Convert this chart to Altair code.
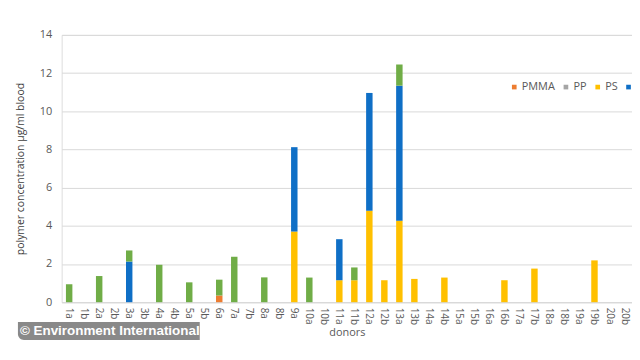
import altair as alt
import pandas as pd

donors = ["1a","1b","2a","2b","3a","3b","4a","4b","5a","5b","6a","7a","7b","8a","8b",
          "9a","10a","10b","11a","11b","12a","12b","13a","13b","14a","14b","15a","15b",
          "16a","16b","17a","17b","18a","18b","19a","19b","20a","20b"]

polymers = ["PMMA", "PP", "PS", "PET", "PE"]
colors = ["#ED7D31", "#A5A5A5", "#FFC000", "#0F6FC6", "#70AD47"]

pmma_donors = ["6a"]
pmma_values = [0.35]

pp_donors = []
pp_values = []

ps_donors = ["9a", "11a", "11b", "12a", "12b", "13a", "13b", "14b", "16b", "17b", "19b"]
ps_values = [3.70, 1.15, 1.15, 4.79, 1.15, 4.27, 1.22, 1.29, 1.15, 1.76, 2.19]

pet_donors = ["3a", "9a", "11a", "12a", "13a"]
pet_values = [2.13, 4.42, 2.15, 6.17, 7.07]

pe_donors = ["1a", "2a", "3a", "4a", "5a", "6a", "7a", "8a", "10a", "11b", "13a"]
pe_values = [0.94, 1.37, 0.58, 1.96, 1.04, 0.83, 2.38, 1.30, 1.29, 0.67, 1.11]

rows = []
for i, (name, ds, vs) in enumerate([
    ("PMMA", pmma_donors, pmma_values),
    ("PP", pp_donors, pp_values),
    ("PS", ps_donors, ps_values),
    ("PET", pet_donors, pet_values),
    ("PE", pe_donors, pe_values),
]):
    for d, v in zip(ds, vs):
        rows.append({"donor": d, "polymer": name, "value": v, "idx": i})
df = pd.DataFrame(rows)

FONT = "Open Sans"

bars = alt.Chart(df).mark_bar().encode(
    x=alt.X("donor:N", sort=donors, scale=alt.Scale(domain=donors, paddingInner=0.57, paddingOuter=0.285),
            axis=alt.Axis(title="donors", labelAngle=90, labelFontSize=10, labelColor="#595959",
                          labelFont=FONT, ticks=False, domainColor="#D9D9D9", labelPadding=5,
                          titleFont=FONT, titleFontSize=11, titleColor="#595959",
                          titleFontWeight="normal", titlePadding=2)),
    y=alt.Y("value:Q", stack="zero", scale=alt.Scale(domain=[0, 14], nice=False),
            axis=alt.Axis(title="polymer concentration µg/ml blood", values=[0, 2, 4, 6, 8, 10, 12, 14],
                          domain=False, ticks=False, labelFont=FONT, labelFontSize=11,
                          labelColor="#595959", labelPadding=10, gridColor="#D9D9D9",
                          titleFont=FONT, titleFontSize=10.5, titleColor="#404040",
                          titleFontWeight="normal", titlePadding=14)),
    color=alt.Color("polymer:N", scale=alt.Scale(domain=polymers, range=colors),
                    legend=alt.Legend(title=None, orient="none", legendX=450, legendY=47,
                                      direction="horizontal", columns=5, gridAlign="none",
                                      symbolType="square",
                                      symbolSize=22, symbolStrokeWidth=0, labelFont=FONT,
                                      labelFontSize=11, labelColor="#595959", columnPadding=5,
                                      labelOffset=2)),
    order=alt.Order("idx:Q", sort="ascending"),
)

wm = pd.DataFrame({"t": ["© Environment International"]})
wm_rect = alt.Chart(wm).mark_rect(color="#7F7F7F", opacity=0.92, cornerRadiusBottomLeft=6).encode(
    x=alt.value(-44), x2=alt.value(139), y=alt.value(289), y2=alt.value(307)
)
wm_text = alt.Chart(wm).mark_text(color="white", fontWeight="bold", fontSize=13.5, font="Liberation Sans",
                                  align="left", baseline="middle").encode(
    x=alt.value(-42), y=alt.value(298.5), text="t:N"
)

chart = alt.layer(bars, wm_rect, wm_text).properties(
    width=574, height=269,
    autosize=alt.AutoSizeParams(type="none"),
    padding={"left": 54, "top": 26, "right": 0, "bottom": 42},
).configure_view(stroke=None).configure(background="white")

chart.save("out.html", embed_options={"renderer": "svg", "actions": False})
